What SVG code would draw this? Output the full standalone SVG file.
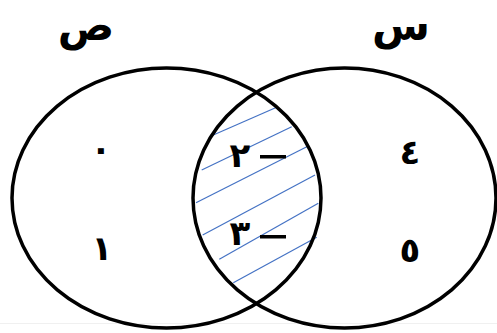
<svg xmlns="http://www.w3.org/2000/svg" width="497" height="333" viewBox="0 0 497 333">
<style>
.set{fill:none;stroke:#000;stroke-width:3.5}
.hatch line{stroke:#4472C4;stroke-width:1.2}
.lbl{font-family:"DejaVu Sans",sans-serif;font-weight:bold;fill:#000;text-anchor:middle}
.num{font-size:34px}
.set-name{font-size:42px}
</style>
<rect width="497" height="333" fill="#fff"/>
<line x1="0" y1="323.5" x2="497" y2="323.5" stroke="#f0f0f0" stroke-width="1"/>
<g id="hatching" class="hatch">
<line x1="213.3" y1="135" x2="276.7" y2="107.3"/>
<line x1="201.7" y1="170" x2="291.7" y2="126.7"/>
<line x1="196" y1="202.7" x2="308.3" y2="146"/>
<line x1="202.7" y1="235" x2="315" y2="175"/>
<line x1="219.3" y1="259.3" x2="318.3" y2="203.3"/>
<line x1="233.3" y1="282.7" x2="316.7" y2="237.3"/>
</g>
<g id="set-sad">
<ellipse class="set" cx="166.5" cy="198" rx="154.5" ry="130"/>
<text class="lbl set-name" x="86" y="40">ص</text>
</g>
<g id="set-sin">
<ellipse class="set" cx="344.5" cy="198" rx="151.5" ry="130"/>
<text class="lbl set-name" x="401" y="40">س</text>
</g>
<g id="elements">
<text class="lbl num" x="101" y="161">٠</text>
<text class="lbl num" x="102" y="260">١</text>
<text class="lbl num" x="410" y="164">٤</text>
<text class="lbl num" x="410" y="262">٥</text>
<text class="lbl num" x="240" y="167">٢</text>
<rect x="260" y="155" width="26" height="3.5" fill="#000"/>
<text class="lbl num" x="240" y="245">٣</text>
<rect x="260" y="235" width="26" height="3.5" fill="#000"/>
</g>
</svg>
